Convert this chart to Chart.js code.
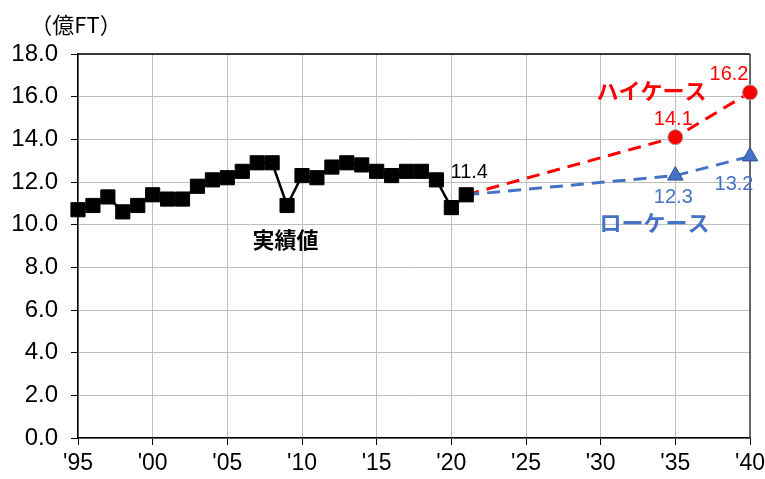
<!DOCTYPE html>
<html>
<head>
<meta charset="utf-8">
<script src="https://cdn.jsdelivr.net/npm/chart.js@4"></script>
<style>
  html, body { margin: 0; padding: 0; background: #fff; }
  #wrap { width: 765px; height: 479px; }
</style>
</head>
<body>
<div id="wrap"><canvas id="chart_ftVolume"></canvas></div>
<script>
// actual values ('95 - '21), 億FT
var actualYears = [1995, 1996, 1997, 1998, 1999, 2000, 2001, 2002, 2003, 2004, 2005, 2006, 2007,
                   2008, 2009, 2010, 2011, 2012, 2013, 2014, 2015, 2016, 2017, 2018, 2019, 2020, 2021];
var actualValues = [10.7, 10.9, 11.3, 10.6, 10.9, 11.4, 11.2, 11.2, 11.8, 12.1, 12.2, 12.5, 12.9,
                    12.9, 10.9, 12.3, 12.2, 12.7, 12.9, 12.8, 12.5, 12.3, 12.5, 12.5, 12.1, 10.8, 11.4];

// projections
var projYears = [2021, 2035, 2040];
var highValues = [11.4, 14.1, 16.2];
var lowValues = [11.4, 12.3, 13.2];

var xMin = 1995, xMax = 2040, xStep = 5;
var yMin = 0, yMax = 18, yStep = 2;

var unitLabel = '（億FT）';
var seriesNotes = [
    { text: 'ハイケース', x: 2033.4, y: 16.3, color: '#FF0000' },
    { text: 'ローケース', x: 2033.6, y: 10.1, color: '#4472C4' },
    { text: '実績値', x: 2008.9, y: 9.3, color: '#000000' }
];

function toPoints(xs, ys) {
    return xs.map(function (x, i) { return { x: x, y: ys[i] }; });
}

var latinFont = "'Liberation Sans', Arial, 'Noto Sans CJK JP', sans-serif";
var jpFont = "'Noto Sans CJK JP', 'Liberation Sans', sans-serif";

var chart_ftVolume = new Chart(document.getElementById('chart_ftVolume'), {
    type: 'line',
    data: {
        datasets: [
            {
                label: '実績値',
                data: toPoints(actualYears, actualValues),
                borderColor: '#000000',
                borderWidth: 2.5,
                pointStyle: 'rect',
                pointRadius: 10,
                pointBackgroundColor: '#000000',
                pointBorderColor: '#000000',
                pointBorderWidth: 1,
                tension: 0
            },
            {
                label: 'ローケース',
                data: toPoints(projYears, lowValues),
                borderColor: '#4472C4',
                borderWidth: 3,
                borderDash: [13, 8],
                pointStyle: 'triangle',
                pointRadius: [0, 9, 9],
                pointBackgroundColor: '#4472C4',
                pointBorderColor: '#2F528F',
                pointBorderWidth: 1,
                tension: 0
            },
            {
                label: 'ハイケース',
                data: toPoints(projYears, highValues),
                borderColor: '#FF0000',
                borderWidth: 3,
                borderDash: [13, 8],
                pointStyle: 'circle',
                pointRadius: [0, 7.5, 7.5],
                pointBackgroundColor: '#FF0000',
                pointBorderColor: '#A6A6A6',
                pointBorderWidth: 1,
                tension: 0
            }
        ]
    },
    options: {
        animation: false,
        responsive: true,
        maintainAspectRatio: false,
        clip: false,
        layout: { padding: { top: 54, right: 15, left: 0, bottom: 0 } },
        plugins: {
            legend: { display: false },
            title: { display: false },
            tooltip: { enabled: false }
        },
        scales: {
            x: {
                type: 'linear',
                min: xMin,
                max: xMax,
                afterBuildTicks: function (scale) {
                    var t = [];
                    for (var v = xMin; v <= xMax; v += xStep) t.push({ value: v });
                    scale.ticks = t;
                },
                afterFit: function (scale) {
                    scale.height = 41;
                    scale.paddingLeft = 0;
                    scale.paddingRight = 0;
                },
                ticks: {
                    color: '#000000',
                    padding: 5,
                    maxRotation: 0,
                    font: { family: latinFont, size: 23 },
                    callback: function (v) { return "'" + String(v).slice(2); }
                },
                grid: {
                    color: '#BFBFBF',
                    lineWidth: 1,
                    tickColor: '#000000',
                    tickLength: 7
                },
                border: { color: '#000000', width: 1.5 }
            },
            y: {
                type: 'linear',
                min: yMin,
                max: yMax,
                afterFit: function (scale) {
                    scale.width = 78;
                    scale.paddingTop = 0;
                    scale.paddingBottom = 0;
                },
                ticks: {
                    stepSize: yStep,
                    color: '#000000',
                    padding: 13,
                    font: { family: latinFont, size: 24 },
                    callback: function (v) { return v.toFixed(1); }
                },
                grid: {
                    color: '#BFBFBF',
                    lineWidth: 1,
                    tickColor: '#000000',
                    tickLength: 7
                },
                border: { color: '#000000', width: 1.5 }
            }
        }
    },
    plugins: [{
        id: 'whiteBackground',
        beforeDraw: (chart) => {
            const ctx = chart.ctx;
            ctx.save();
            ctx.fillStyle = 'white';
            ctx.fillRect(0, 0, chart.width, chart.height);
            ctx.restore();
        }
    }, {
        id: 'frameAndLabels',
        beforeDatasetsDraw: (chart) => {
            const ctx = chart.ctx, a = chart.chartArea;
            ctx.save();
            ctx.strokeStyle = '#000000';
            ctx.lineWidth = 1.5;
            ctx.beginPath();
            ctx.moveTo(a.left, a.top);
            ctx.lineTo(a.right, a.top);
            ctx.stroke();
            ctx.strokeStyle = '#404040';
            ctx.beginPath();
            ctx.moveTo(a.right, a.top);
            ctx.lineTo(a.right, a.bottom);
            ctx.stroke();
            ctx.restore();
        },
        afterDatasetsDraw: (chart) => {
            const ctx = chart.ctx, xs = chart.scales.x, ys = chart.scales.y;
            ctx.save();
            ctx.textAlign = 'center';
            ctx.textBaseline = 'middle';

            // unit
            ctx.fillStyle = '#000000';
            ctx.font = '22px ' + jpFont;
            ctx.fillText(unitLabel, 76, 25);

            // value labels
            ctx.font = '20px ' + latinFont;
            function val(x, y, color, dx, dy) {
                ctx.fillStyle = color;
                ctx.fillText(y.toFixed(1), xs.getPixelForValue(x) + dx, ys.getPixelForValue(y) + dy);
            }
            var n = actualYears.length - 1;
            val(actualYears[n], actualValues[n], '#000000', 3, -22);
            val(projYears[1], highValues[1], '#FF0000', -2, -18);
            val(projYears[2], highValues[2], '#FF0000', -21, -18);
            val(projYears[1], lowValues[1], '#4472C4', -2, 22);
            val(projYears[2], lowValues[2], '#4472C4', -16, 28);

            // series notes
            ctx.font = 'bold 22px ' + jpFont;
            seriesNotes.forEach(function (s) {
                ctx.fillStyle = s.color;
                ctx.fillText(s.text, xs.getPixelForValue(s.x), ys.getPixelForValue(s.y));
            });
            ctx.restore();
        }
    }]
});
</script>
</body>
</html>
